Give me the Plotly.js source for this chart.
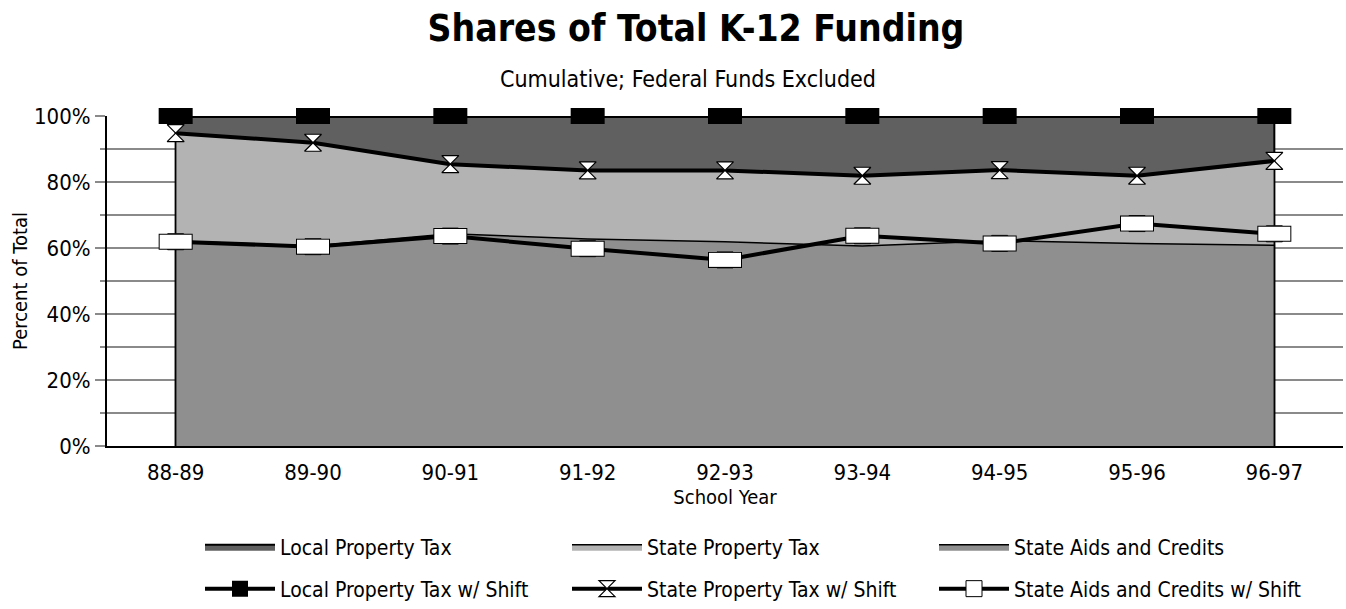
<!DOCTYPE html>
<html>
<head>
<meta charset="utf-8">
<script src="https://cdn.plot.ly/plotly-3.0.1.min.js"></script>
<style>html,body{margin:0;padding:0;background:#fff;}#chart{width:1346px;height:609px;}</style>
</head>
<body>
<div id="chart"></div>
<script>
// ---- data (cumulative percent of total) ----
var schoolYears = ['88-89','89-90','90-91','91-92','92-93','93-94','94-95','95-96','96-97'];
var localTaxCum = [100, 100, 100, 100, 100, 100, 100, 100, 100];
var stateTaxCum = [94.8, 91.9, 85.4, 83.5, 83.5, 81.9, 83.6, 81.9, 86.4];
var stateAidsCum = [62.1, 60.6, 64.3, 62.7, 61.9, 60.6, 62.2, 61.4, 60.8];
var localTaxShift = [100, 100, 100, 100, 100, 100, 100, 100, 100];
var stateTaxShift = [94.8, 91.9, 85.4, 83.5, 83.5, 81.9, 83.6, 81.9, 86.4];
var stateAidsShift = [61.9, 60.4, 63.6, 59.8, 56.4, 63.7, 61.4, 67.4, 64.3];

var FONT = 'DejaVu Sans Condensed, DejaVu Sans, sans-serif';

function polyX(cats) { return [cats[0]].concat(cats, [cats[cats.length - 1]]); }
function polyY(vals) { return [0].concat(vals, [0]); }

function area(name, vals, color, lw) {
  return {
    type: 'scatter', mode: 'lines', name: name, legend: 'legend',
    x: polyX(schoolYears), y: polyY(vals),
    fill: 'toself', fillcolor: color,
    line: {color: '#000', width: lw},
    cliponaxis: false, hoverinfo: 'skip'
  };
}
function rectOverlay(vals, color, len, h) {
  return {
    type: 'scatter', mode: 'markers', showlegend: false, hoverinfo: 'skip',
    x: schoolYears, y: vals, cliponaxis: false,
    marker: {symbol: 'line-ew', size: len / 1.4, color: color,
             line: {color: color, width: h}}
  };
}

var traces = [
  area('Local Property Tax', localTaxCum, '#606060', 2),
  area('State Property Tax', stateTaxCum, '#b3b3b3', 1.5),
  area('State Aids and Credits', stateAidsCum, '#8f8f8f', 1.5),
  {
    type: 'scatter', mode: 'lines+markers', name: 'Local Property Tax w/ Shift', legend: 'legend2',
    x: schoolYears, y: localTaxShift, cliponaxis: false,
    line: {color: '#000', width: 4},
    marker: {symbol: 'square', size: 16, color: '#000', line: {color: '#000', width: 0}}
  },
  rectOverlay(localTaxShift, '#000', 34, 16),
  {
    type: 'scatter', mode: 'lines+markers', name: 'State Property Tax w/ Shift', legend: 'legend2',
    x: schoolYears, y: stateTaxShift, cliponaxis: false,
    line: {color: '#000', width: 4},
    marker: {symbol: 'hourglass', size: 17, color: '#fff', line: {color: '#000', width: 1.2}}
  },
  {
    type: 'scatter', mode: 'lines+markers', name: 'State Aids and Credits w/ Shift', legend: 'legend2',
    x: schoolYears, y: stateAidsShift, cliponaxis: false,
    line: {color: '#000', width: 4},
    marker: {symbol: 'square', size: 16, color: '#fff', line: {color: '#000', width: 1}}
  },
  rectOverlay(stateAidsShift, '#000', 34, 16),
  rectOverlay(stateAidsShift, '#fff', 32, 14)
];

var legendCommon = {
  orientation: 'h', xref: 'container', yref: 'container',
  xanchor: 'left', yanchor: 'middle',
  entrywidth: 282, entrywidthmode: 'pixels', itemwidth: 70,
  font: {family: FONT, size: 21, color: '#000'},
  bgcolor: 'rgba(0,0,0,0)', borderwidth: 0
};

var layout = {
  width: 1346, height: 609,
  margin: {l: 107, r: 3, t: 116, b: 163},
  paper_bgcolor: '#fff', plot_bgcolor: '#fff',
  font: {family: FONT, color: '#000'},
  showlegend: true,
  title: {
    text: 'Shares of Total K-12 Funding',
    font: {family: FONT, size: 37, weight: 'bold', color: '#000'},
    xref: 'container', x: 696 / 1346, xanchor: 'center',
    yref: 'container', y: 1 - 28 / 609, yanchor: 'middle'
  },
  annotations: [{
    text: 'Cumulative; Federal Funds Excluded',
    xref: 'paper', yref: 'paper', x: 0.47, y: 1.112,
    xanchor: 'center', yanchor: 'middle', showarrow: false,
    font: {family: FONT, size: 23, color: '#000'}
  }],
  xaxis: {
    type: 'category', range: [-0.5, 8.5], fixedrange: true,
    showgrid: false, zeroline: false,
    showline: true, linecolor: '#000', linewidth: 2,
    ticks: '', ticklabelstandoff: 6,
    tickfont: {family: FONT, size: 22, color: '#000'},
    title: {text: 'School Year', font: {family: FONT, size: 20, color: '#000'}, standoff: 2}
  },
  yaxis: {
    range: [0, 100], fixedrange: true,
    tickmode: 'linear', tick0: 0, dtick: 20, ticksuffix: '%',
    showgrid: true, gridcolor: '#8a8a8a', gridwidth: 1.5,
    zeroline: false,
    showline: true, linecolor: '#000', linewidth: 2,
    ticks: 'outside', ticklen: 10, tickcolor: '#8a8a8a', tickwidth: 1.5,
    tickfont: {family: FONT, size: 22, color: '#000'},
    minor: {dtick: 10, showgrid: true, gridcolor: '#8a8a8a', gridwidth: 1.5,
            ticks: 'outside', ticklen: 5, tickcolor: '#8a8a8a', tickwidth: 1.5},
    title: {text: 'Percent of Total', font: {family: FONT, size: 20, color: '#000'}, standoff: 1}
  },
  legend: Object.assign({}, legendCommon, {x: 200 / 1346, y: 1 - 547 / 609}),
  legend2: Object.assign({}, legendCommon, {x: 200 / 1346, y: 1 - 589 / 609})
};

Plotly.newPlot('chart', traces, layout, {staticPlot: true, displayModeBar: false});
</script>
</body>
</html>
